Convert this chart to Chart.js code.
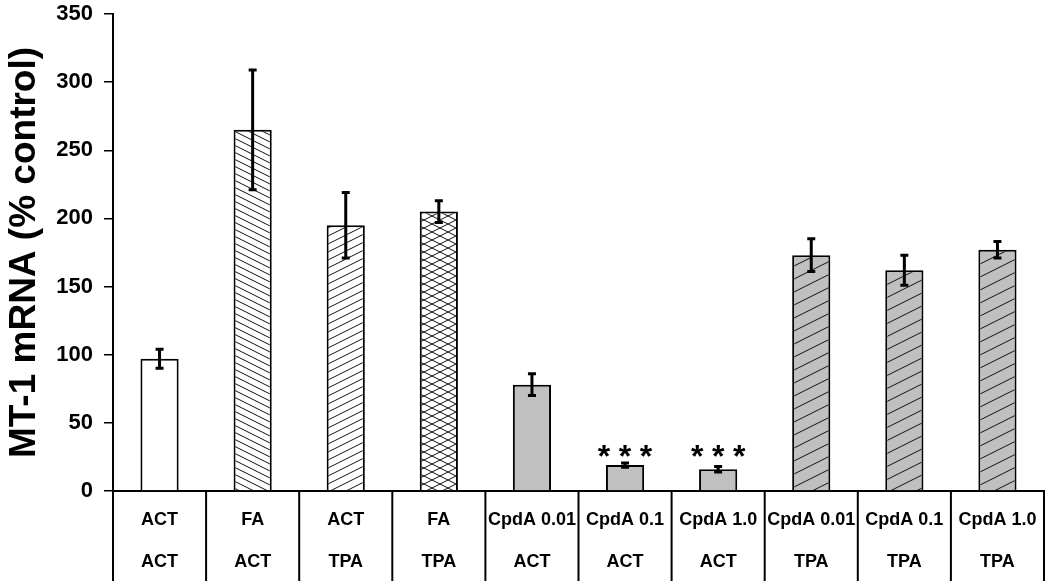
<!DOCTYPE html>
<html>
<head>
<meta charset="utf-8">
<script src="https://cdn.jsdelivr.net/npm/chart.js@4.4.1/dist/chart.umd.min.js"></script>
<style>
  body { margin: 0; background: #fff; }
  canvas { display: block; }
</style>
</head>
<body>
<canvas id="mtChart" width="1050" height="584"></canvas>
<script>
// Data
const topLabels = ["ACT", "FA", "ACT", "FA", "CpdA 0.01", "CpdA 0.1", "CpdA 1.0", "CpdA 0.01", "CpdA 0.1", "CpdA 1.0"];
const bottomLabels = ["ACT", "ACT", "TPA", "TPA", "ACT", "ACT", "ACT", "TPA", "TPA", "TPA"];
const meanValues = [97, 265, 195, 205, 78, 19, 16, 173, 162, 177];
const errValues = [7, 44, 24, 8, 8, 1.5, 2, 12, 11, 6];
const starMarks = ["", "", "", "", "", "***", "***", "", "", ""];
const starLevel = 29;
const yTicks = [0, 50, 100, 150, 200, 250, 300, 350];

const FONT = "Arial, 'Liberation Sans', sans-serif";
const GRAY = "#c0c0c0";

// hatch patterns
const makePattern = (bg, s, dirs) => {
  const w = s * 2, h = s;
  const c = document.createElement("canvas");
  c.width = w;
  c.height = h;
  const g = c.getContext("2d");
  g.fillStyle = bg;
  g.fillRect(0, 0, w, h);
  g.strokeStyle = "#111";
  g.lineWidth = 1;
  for (const d of dirs) {
    for (let k = -1; k <= 1; k++) {
      g.beginPath();
      if (d === "/") {
        g.moveTo(0, h + k * h);
        g.lineTo(w, k * h);
      } else {
        g.moveTo(0, k * h);
        g.lineTo(w, h + k * h);
      }
      g.stroke();
    }
  }
  return g.createPattern(c, "repeat");
};

const ctx = document.getElementById("mtChart").getContext("2d");

const fills = [
  "#ffffff",
  makePattern("#ffffff", 7, ["\\"]),
  makePattern("#ffffff", 8, ["/"]),
  makePattern("#ffffff", 8, ["/", "\\"]),
  GRAY,
  GRAY,
  GRAY,
  makePattern(GRAY, 13, ["/"]),
  makePattern(GRAY, 13, ["/"]),
  makePattern(GRAY, 13, ["/"]),
];

// table under the x axis, error bars and stars
const extrasPlugin = {
  id: "extras",
  afterDatasetsDraw(chart) {
    const { ctx, scales } = chart;
    const x = scales.x, y = scales.y;
    ctx.save();
    ctx.strokeStyle = "#000";
    ctx.fillStyle = "#000";
    ctx.lineWidth = 3;
    meanValues.forEach((v, i) => {
      const cx = x.getPixelForValue(i);
      const yt = y.getPixelForValue(v + errValues[i]);
      const yb = y.getPixelForValue(v - errValues[i]);
      ctx.beginPath();
      ctx.moveTo(cx, yt);
      ctx.lineTo(cx, yb);
      ctx.moveTo(cx - 4, yt);
      ctx.lineTo(cx + 4, yt);
      ctx.moveTo(cx - 4, yb);
      ctx.lineTo(cx + 4, yb);
      ctx.stroke();
    });
    ctx.font = "bold 32px " + FONT;
    ctx.textAlign = "center";
    ctx.textBaseline = "alphabetic";
    starMarks.forEach((s, i) => {
      if (!s) return;
      const cx = x.getPixelForValue(i);
      const sy = y.getPixelForValue(starLevel) + 16;
      [-21, 0, 21].forEach((dx) => ctx.fillText("*", cx + dx, sy));
    });
    ctx.restore();
  },
  afterDraw(chart) {
    const { ctx, scales, chartArea } = chart;
    const x = scales.x;
    const n = topLabels.length;
    const cw = (chartArea.right - chartArea.left) / n;
    ctx.save();
    ctx.strokeStyle = "#000";
    ctx.lineWidth = 2;
    for (let i = 0; i <= n; i++) {
      const lx = chartArea.left + i * cw;
      ctx.beginPath();
      ctx.moveTo(lx, chartArea.bottom);
      ctx.lineTo(lx, 581);
      ctx.stroke();
    }
    ctx.fillStyle = "#000";
    ctx.font = "bold 18px " + FONT;
    ctx.textAlign = "center";
    ctx.textBaseline = "middle";
    topLabels.forEach((t, i) => {
      const cx = x.getPixelForValue(i);
      ctx.fillText(t, cx, chartArea.bottom + 29);
      ctx.fillText(bottomLabels[i], cx, chartArea.bottom + 71);
    });
    ctx.restore();
  },
};

const chart = new Chart(ctx, {
  type: "bar",
  data: {
    labels: topLabels.map((t, i) => [t, bottomLabels[i]]),
    datasets: [
      {
        data: meanValues,
        backgroundColor: fills,
        borderColor: "#000",
        borderWidth: 2,
        borderSkipped: "bottom",
        barPercentage: 0.41,
        categoryPercentage: 1,
      },
    ],
  },
  options: {
    responsive: false,
    animation: false,
    devicePixelRatio: 1,
    layout: { padding: { top: 14, right: 6, left: 0, bottom: 0 } },
    plugins: {
      legend: { display: false },
      tooltip: { enabled: false },
    },
    scales: {
      x: {
        grid: { display: false },
        ticks: { display: false },
        border: { color: "#000", width: 2 },
        afterFit: (scale) => {
          scale.height = 93;
        },
      },
      y: {
        min: 0,
        max: 350,
        afterBuildTicks: (scale) => {
          scale.ticks = yTicks.map((v) => ({ value: v }));
        },
        grid: {
          drawOnChartArea: false,
          drawTicks: true,
          tickLength: 9,
          color: "#000",
          lineWidth: 1.5,
        },
        border: { color: "#000", width: 2 },
        ticks: {
          color: "#000",
          padding: 11,
          font: { family: FONT, size: 22, weight: "bold" },
        },
        title: {
          display: true,
          text: "MT-1 mRNA (% control)",
          color: "#000",
          padding: { top: 3, bottom: 0 },
          font: { family: FONT, size: 37, weight: "bold" },
        },
        afterFit: (scale) => {
          scale.width = 113;
          scale.paddingTop = 0;
          scale.paddingBottom = 0;
        },
      },
    },
  },
  plugins: [extrasPlugin],
});
</script>
</body>
</html>
